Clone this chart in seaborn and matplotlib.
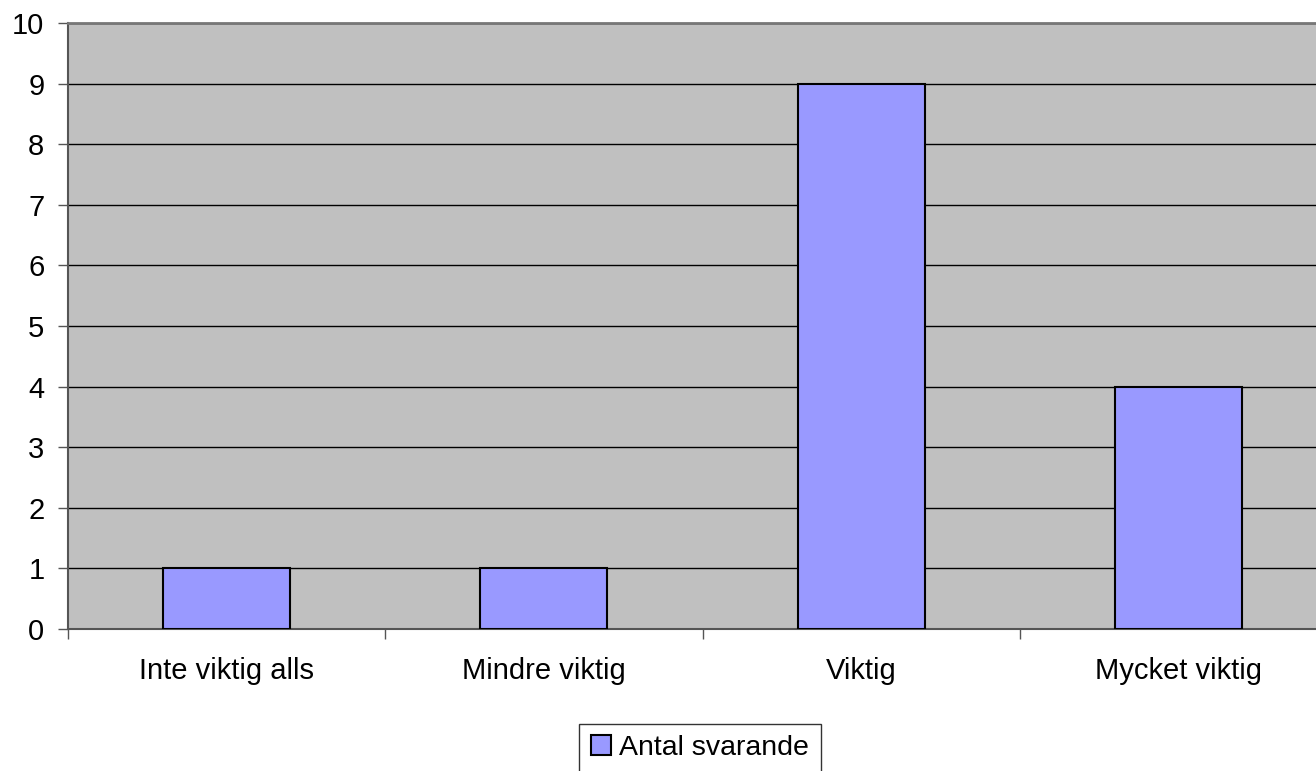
import matplotlib
matplotlib.use("Agg")
import matplotlib.pyplot as plt
import seaborn as sns
import pandas as pd
from matplotlib.patches import Patch

categories = ["Inte viktig alls", "Mindre viktig", "Viktig", "Mycket viktig"]
values = [1, 1, 9, 4]
series_name = "Antal svarande"
yticks = list(range(0, 11))

sns.set_style("white")
plt.rcParams['font.family'] = ['Liberation Sans', 'DejaVu Sans']
plt.rcParams['text.color'] = 'black'
plt.rcParams['xtick.labelcolor'] = 'black'
plt.rcParams['ytick.labelcolor'] = 'black'

df = pd.DataFrame({"cat": categories, "val": values})

fig = plt.figure(figsize=(13.16, 7.71), dpi=100)
ax = fig.add_axes([68/1316, 142/771, 1269/1316, 606/771])
ax.set_facecolor("#C0C0C0")

sns.barplot(data=df, x="cat", y="val", color="#9999FF", edgecolor="black",
            linewidth=1.5, width=0.4, saturation=1, ax=ax, zorder=3)

ax.set_xlim(-0.5, 3.5)
ax.set_ylim(0, 10)
ax.set_yticks(yticks)
ax.yaxis.grid(True, color="black", linewidth=1.0, zorder=1)
ax.set_axisbelow(True)
ax.set_xlabel("")
ax.set_ylabel("")

ax.tick_params(axis="y", which="major", length=7, width=1, color="#555555",
               labelsize=21, pad=10, left=True, direction="out", labelcolor="black")
ax.tick_params(axis="x", which="major", length=0, labelsize=21, pad=20, labelcolor="black")
ax.xaxis.set_minor_locator(matplotlib.ticker.FixedLocator([-0.5, 0.5, 1.5, 2.5]))
ax.tick_params(axis="x", which="minor", length=7, width=1, color="#555555",
               bottom=True, direction="out")

for s in ["left", "bottom"]:
    ax.spines[s].set_color("#555555")
    ax.spines[s].set_linewidth(1.5)
ax.spines["top"].set_color("#777777")
ax.spines["top"].set_linewidth(2)
ax.spines["right"].set_visible(False)

handle = Patch(facecolor="#9999FF", edgecolor="black", linewidth=1.5)
leg = fig.legend([handle], [series_name], loc="upper center",
                 bbox_to_anchor=(700/1316, 1 - 724/771), fontsize=20.5,
                 frameon=True, fancybox=False, handlelength=0.7, handleheight=0.7,
                 handletextpad=0.3, borderpad=0.4, borderaxespad=0)
leg.get_frame().set_edgecolor("black")
leg.get_frame().set_linewidth(1.0)
for t in leg.get_texts():
    t.set_color("black")

fig.savefig("out.png", dpi=100)
